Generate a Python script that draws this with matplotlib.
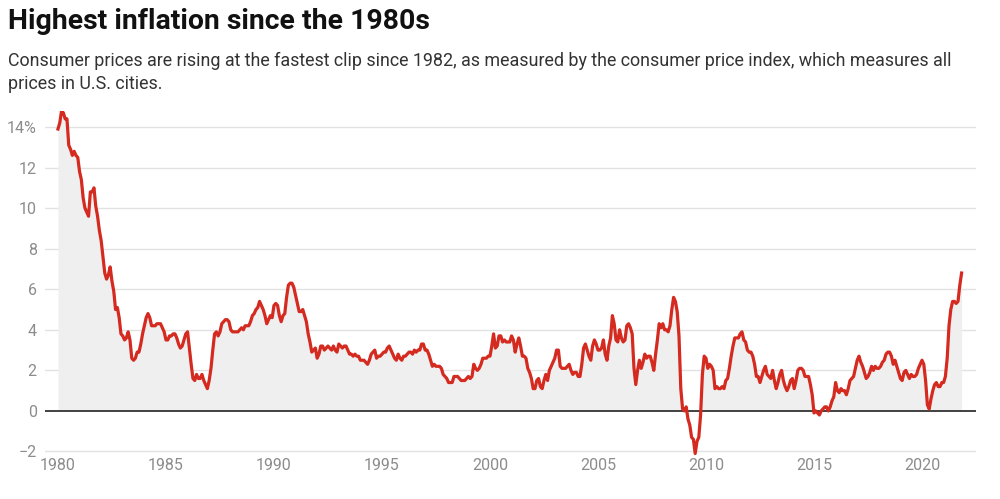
import numpy as np
import matplotlib
matplotlib.use("Agg")
import matplotlib.pyplot as plt

plt.rcParams['font.family'] = ['Roboto', 'DejaVu Sans']

start_year = 1980
cpi_yoy = [
    # 1980
    13.9, 14.2, 14.8, 14.7, 14.4, 14.4, 13.1, 12.9, 12.6, 12.8, 12.6, 12.5,
    # 1981
    11.8, 11.4, 10.5, 10.0, 9.8, 9.6, 10.8, 10.8, 11.0, 10.1, 9.6, 8.9,
    # 1982
    8.4, 7.6, 6.8, 6.5, 6.7, 7.1, 6.4, 5.9, 5.0, 5.1, 4.6, 3.8,
    # 1983
    3.7, 3.5, 3.6, 3.9, 3.5, 2.6, 2.5, 2.6, 2.9, 2.9, 3.3, 3.8,
    # 1984
    4.2, 4.6, 4.8, 4.6, 4.2, 4.2, 4.2, 4.3, 4.3, 4.3, 4.1, 3.9,
    # 1985
    3.5, 3.5, 3.7, 3.7, 3.8, 3.8, 3.6, 3.3, 3.1, 3.2, 3.5, 3.8,
    # 1986
    3.9, 3.1, 2.3, 1.6, 1.5, 1.8, 1.6, 1.6, 1.8, 1.5, 1.3, 1.1,
    # 1987
    1.5, 2.1, 3.0, 3.8, 3.9, 3.7, 3.9, 4.3, 4.4, 4.5, 4.5, 4.4,
    # 1988
    4.0, 3.9, 3.9, 3.9, 3.9, 4.0, 4.1, 4.0, 4.2, 4.2, 4.2, 4.4,
    # 1989
    4.7, 4.8, 5.0, 5.1, 5.4, 5.2, 5.0, 4.7, 4.3, 4.5, 4.7, 4.6,
    # 1990
    5.2, 5.3, 5.2, 4.7, 4.4, 4.7, 4.8, 5.6, 6.2, 6.3, 6.3, 6.1,
    # 1991
    5.7, 5.3, 4.9, 4.9, 5.0, 4.7, 4.4, 3.8, 3.4, 2.9, 3.0, 3.1,
    # 1992
    2.6, 2.8, 3.2, 3.2, 3.0, 3.1, 3.2, 3.1, 3.0, 3.2, 3.0, 2.9,
    # 1993
    3.3, 3.2, 3.1, 3.2, 3.2, 3.0, 2.8, 2.8, 2.7, 2.8, 2.7, 2.7,
    # 1994
    2.5, 2.5, 2.5, 2.4, 2.3, 2.5, 2.8, 2.9, 3.0, 2.6, 2.7, 2.7,
    # 1995
    2.8, 2.9, 2.9, 3.1, 3.2, 3.0, 2.8, 2.6, 2.5, 2.8, 2.6, 2.5,
    # 1996
    2.7, 2.7, 2.8, 2.9, 2.9, 2.8, 3.0, 2.9, 3.0, 3.0, 3.3, 3.3,
    # 1997
    3.0, 3.0, 2.8, 2.5, 2.2, 2.3, 2.2, 2.2, 2.2, 2.1, 1.8, 1.7,
    # 1998
    1.6, 1.4, 1.4, 1.4, 1.7, 1.7, 1.7, 1.6, 1.5, 1.5, 1.5, 1.6,
    # 1999
    1.7, 1.6, 1.7, 2.3, 2.1, 2.0, 2.1, 2.3, 2.6, 2.6, 2.6, 2.7,
    # 2000
    2.7, 3.2, 3.8, 3.1, 3.2, 3.7, 3.7, 3.4, 3.5, 3.4, 3.4, 3.4,
    # 2001
    3.7, 3.5, 2.9, 3.3, 3.6, 3.2, 2.7, 2.7, 2.6, 2.1, 1.9, 1.6,
    # 2002
    1.1, 1.1, 1.5, 1.6, 1.2, 1.1, 1.5, 1.8, 1.5, 2.0, 2.2, 2.4,
    # 2003
    2.6, 3.0, 3.0, 2.2, 2.1, 2.1, 2.1, 2.2, 2.3, 2.0, 1.8, 1.9,
    # 2004
    1.9, 1.7, 1.7, 2.3, 3.1, 3.3, 3.0, 2.7, 2.5, 3.2, 3.5, 3.3,
    # 2005
    3.0, 3.0, 3.1, 3.5, 2.8, 2.5, 3.2, 3.6, 4.7, 4.3, 3.5, 3.4,
    # 2006
    4.0, 3.6, 3.4, 3.5, 4.2, 4.3, 4.1, 3.8, 2.1, 1.3, 2.0, 2.5,
    # 2007
    2.1, 2.4, 2.8, 2.6, 2.7, 2.7, 2.4, 2.0, 2.8, 3.5, 4.3, 4.1,
    # 2008
    4.3, 4.0, 4.0, 3.9, 4.2, 5.0, 5.6, 5.4, 4.9, 3.7, 1.1, 0.1,
    # 2009
    0.0, 0.2, -0.4, -0.7, -1.3, -1.4, -2.1, -1.5, -1.3, -0.2, 1.8, 2.7,
    # 2010
    2.6, 2.1, 2.3, 2.2, 2.0, 1.1, 1.2, 1.1, 1.1, 1.2, 1.1, 1.5,
    # 2011
    1.6, 2.1, 2.7, 3.2, 3.6, 3.6, 3.6, 3.8, 3.9, 3.5, 3.4, 3.0,
    # 2012
    2.9, 2.9, 2.7, 2.3, 1.7, 1.7, 1.4, 1.7, 2.0, 2.2, 1.8, 1.7,
    # 2013
    1.6, 2.0, 1.5, 1.1, 1.4, 1.8, 2.0, 1.5, 1.2, 1.0, 1.2, 1.5,
    # 2014
    1.6, 1.1, 1.5, 2.0, 2.1, 2.1, 2.0, 1.7, 1.7, 1.7, 1.3, 0.8,
    # 2015
    -0.1, 0.0, -0.1, -0.2, 0.0, 0.1, 0.2, 0.2, 0.0, 0.2, 0.5, 0.7,
    # 2016
    1.4, 1.0, 0.9, 1.1, 1.0, 1.0, 0.8, 1.1, 1.5, 1.6, 1.7, 2.1,
    # 2017
    2.5, 2.7, 2.4, 2.2, 1.9, 1.6, 1.7, 1.9, 2.2, 2.0, 2.2, 2.1,
    # 2018
    2.1, 2.2, 2.4, 2.5, 2.8, 2.9, 2.9, 2.7, 2.3, 2.5, 2.2, 1.9,
    # 2019
    1.6, 1.5, 1.9, 2.0, 1.8, 1.6, 1.8, 1.7, 1.7, 1.8, 2.1, 2.3,
    # 2020
    2.5, 2.3, 1.5, 0.3, 0.1, 0.6, 1.0, 1.3, 1.4, 1.2, 1.2, 1.4,
    # 2021
    1.4, 1.7, 2.6, 4.2, 5.0, 5.4, 5.4, 5.3, 5.4, 6.2, 6.8,
]

x_ticks = [1980, 1985, 1990, 1995, 2000, 2005, 2010, 2015, 2020]
y_ticks = [-2, 0, 2, 4, 6, 8, 10, 12, 14]
y_tick_labels = ["\u22122", "0", "2", "4", "6", "8", "10", "12", "14%"]

title = "Highest inflation since the 1980s"
subtitle = ("Consumer prices are rising at the fastest clip since 1982, as measured by the consumer price index, which measures all\n"
            "prices in U.S. cities.")

y = np.array(cpi_yoy)
x = start_year + np.arange(len(y)) / 12.0

fig = plt.figure(figsize=(10, 4.99), dpi=100)
ax = fig.add_axes([0.045, 0.083, 0.931, 0.695])

ax.fill_between(x, np.maximum(y, 0), 0, color="#efefef", lw=0, zorder=1)
for t in y_ticks:
    if t == 0:
        continue
    ax.axhline(t, color="#e2e2e2", lw=1, zorder=0)
ax.axhline(0, color="#333333", lw=1.3, zorder=2)
ax.plot(x, y, color="#d42a20", lw=2.3, zorder=3, solid_joinstyle="round")

ax.set_xlim(1979.4, 2022.5)
ax.set_ylim(-2.3, 14.8)
ax.set_xticks(x_ticks)
ax.set_xticklabels([str(t) for t in x_ticks])
ax.set_yticks(y_ticks)
ax.set_yticklabels(y_tick_labels)
ax.tick_params(axis="both", length=0, colors="#8c8c8c", labelsize=11.5)
ax.tick_params(axis="x", pad=0)
ax.tick_params(axis="y", pad=6)
for s in ax.spines.values():
    s.set_visible(False)

fig.text(0.008, 0.957, title, fontsize=20.4, fontweight="bold", color="#111111",
         va="center", ha="left")
fig.text(0.008, 0.855, subtitle, fontsize=12.85, color="#333333",
         va="center", ha="left", linespacing=1.3)

fig.savefig("out.png", dpi=100)
